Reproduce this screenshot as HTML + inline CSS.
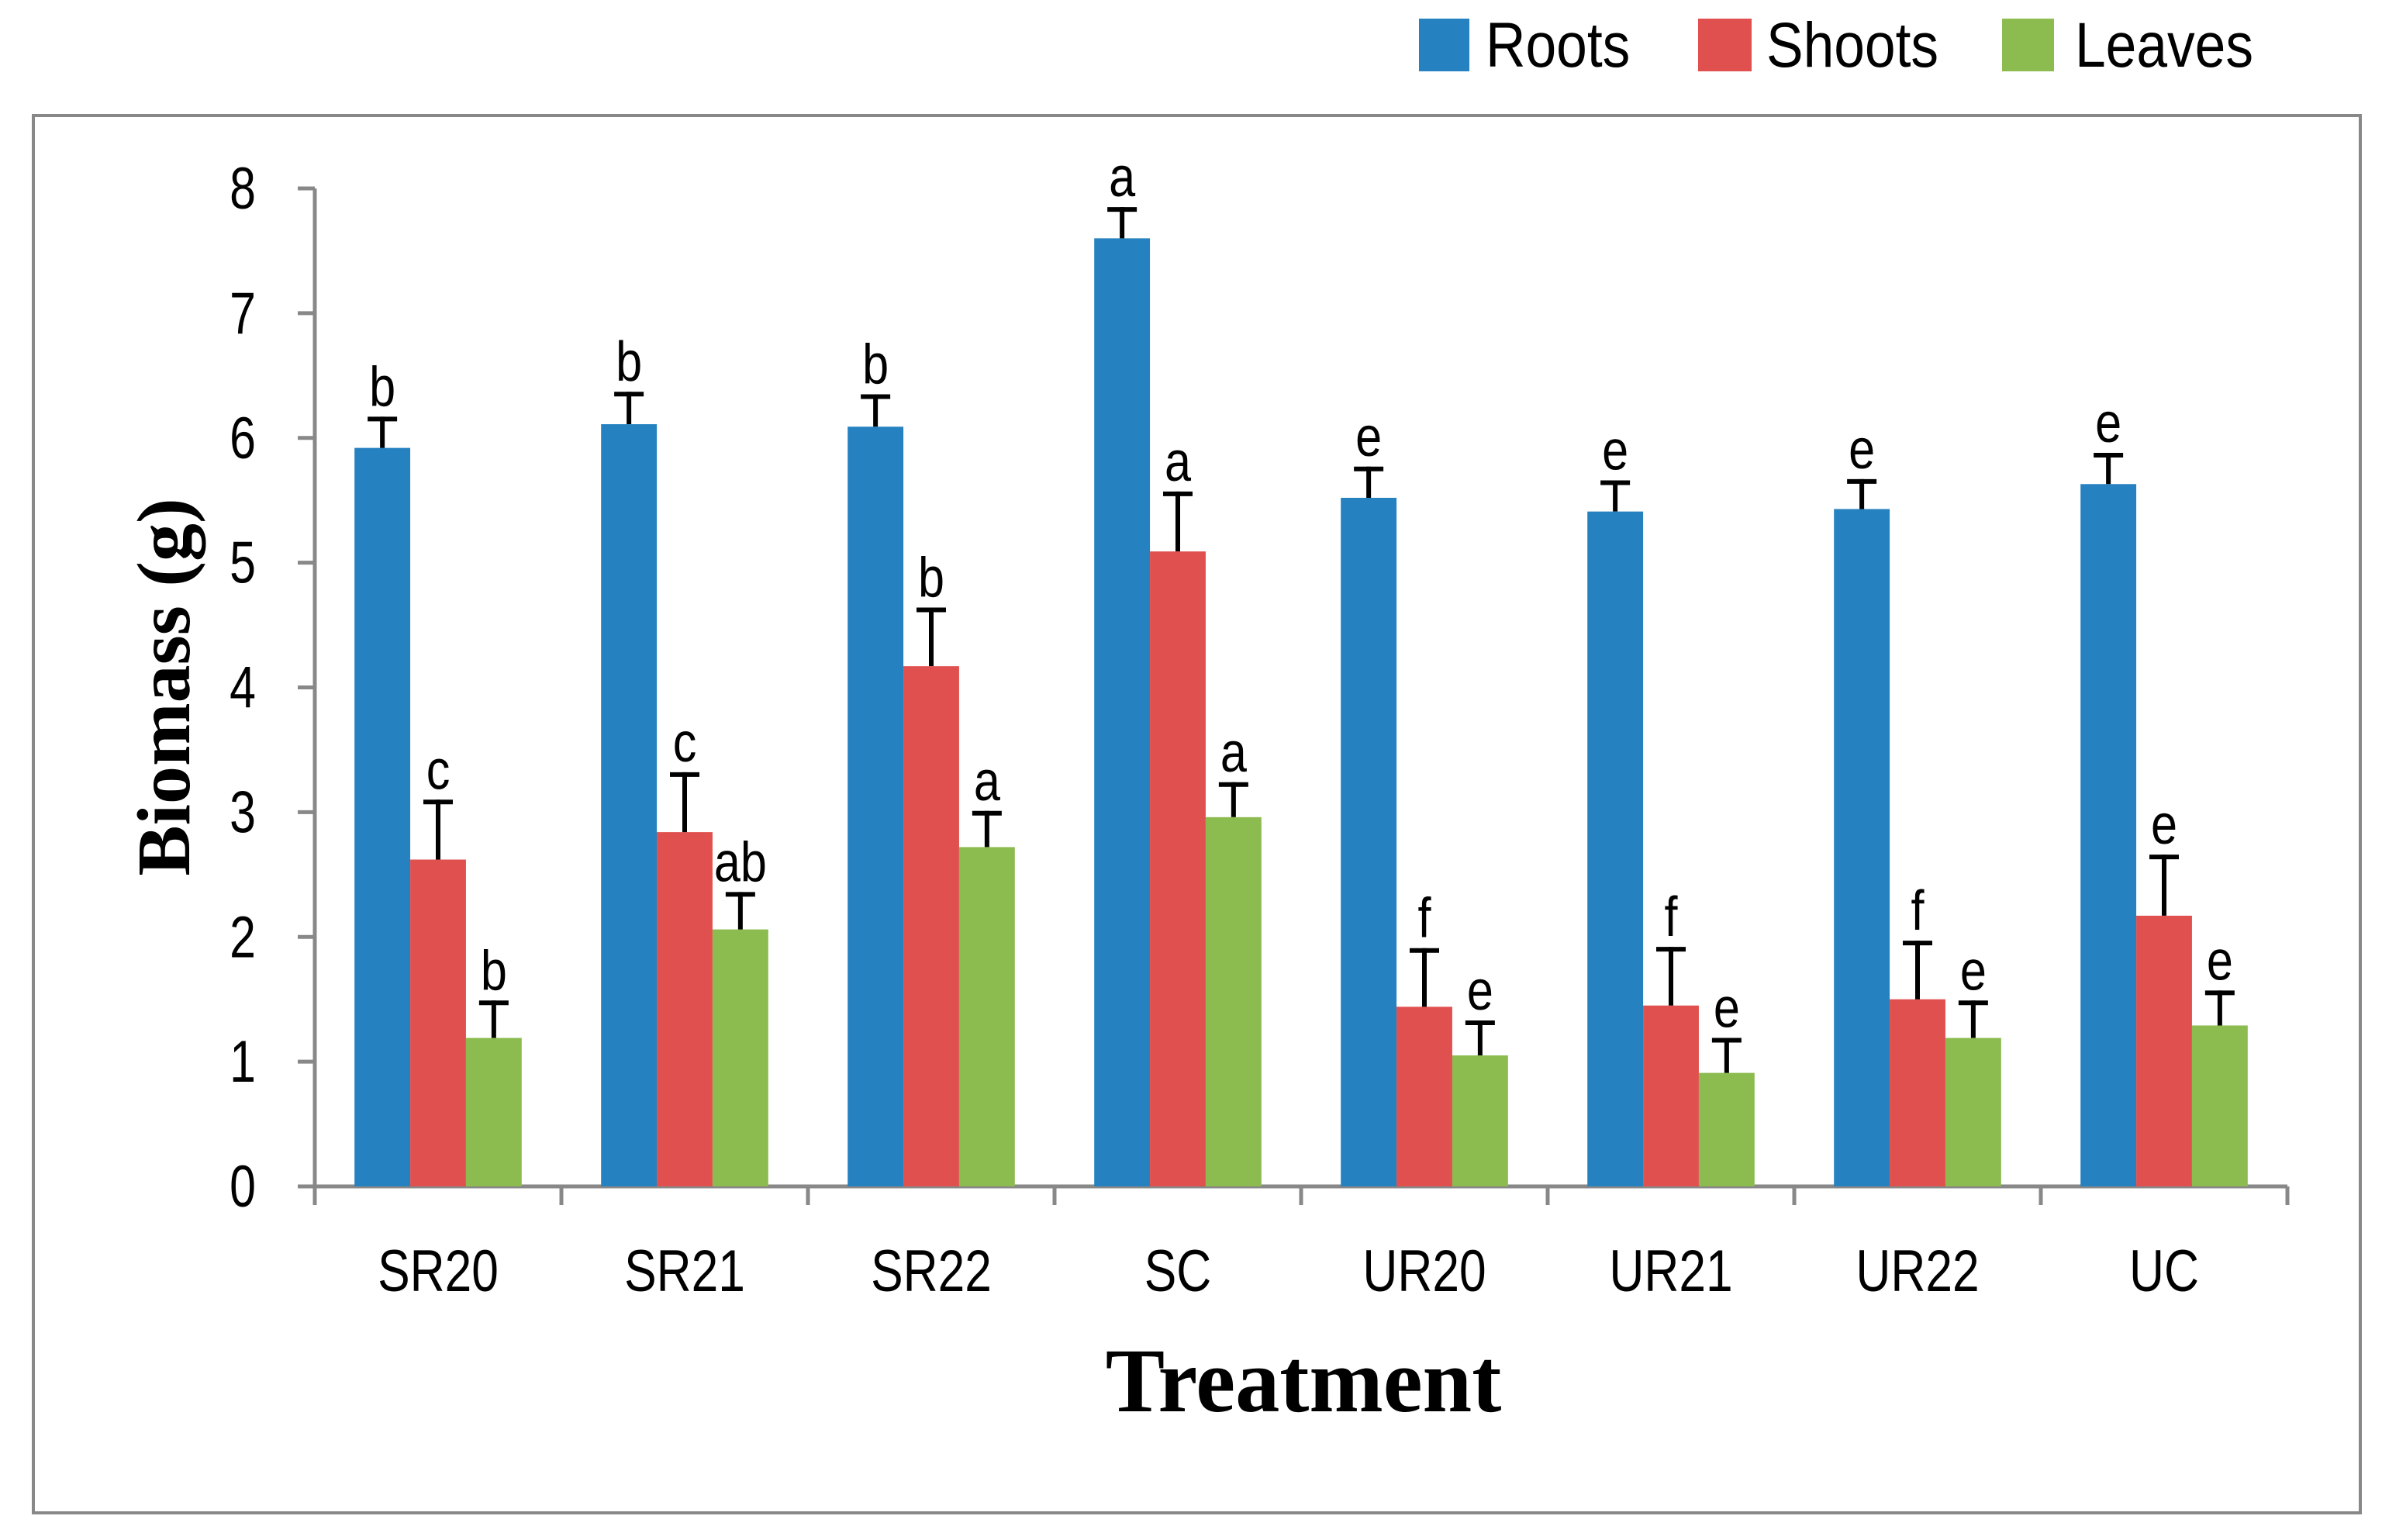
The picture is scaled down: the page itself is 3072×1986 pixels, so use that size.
<!DOCTYPE html>
<html><head><meta charset="utf-8"><style>
html,body{margin:0;padding:0;background:#fff;}
svg{display:block;}
text{font-family:"Liberation Sans",sans-serif;}
</style></head><body>
<svg id="chart" width="3072" height="1986" viewBox="0 0 3072 1986" xmlns="http://www.w3.org/2000/svg">
<rect x="43" y="149" width="3001" height="1802" fill="#fff" stroke="#888" stroke-width="4"/>
<g>
<rect x="1830" y="24" width="65" height="68" fill="#2581C0"/>
<text x="0" y="0" font-size="82" transform="translate(1916,86) scale(0.87,1)">Roots</text>
<rect x="2190" y="24" width="69" height="68" fill="#E0504E"/>
<text x="0" y="0" font-size="82" transform="translate(2278,86) scale(0.87,1)">Shoots</text>
<rect x="2582" y="24" width="67" height="68" fill="#8CBB4F"/>
<text x="0" y="0" font-size="82" transform="translate(2676,86) scale(0.87,1)">Leaves</text>
</g>
<g id="plot"></g>
<text x="0" y="0" font-size="98" font-weight="bold" text-anchor="middle" style="font-family:'Liberation Serif',serif" transform="translate(244,886) rotate(-90)">Biomass (g)</text>
<text x="0" y="0" font-size="118" font-weight="bold" text-anchor="middle" style="font-family:'Liberation Serif',serif" transform="translate(1681,1820) scale(0.97,1)">Treatment</text>
</svg>
<script>
const categories = ["SR20","SR21","SR22","SC","UR20","UR21","UR22","UC"];
const roots = [5.92,6.11,6.09,7.6,5.52,5.41,5.43,5.63];
const shoots = [2.62,2.84,4.17,5.09,1.44,1.45,1.5,2.17];
const leaves = [1.19,2.06,2.72,2.96,1.05,0.91,1.19,1.29];
const rootsErr = [0.25,0.26,0.26,0.25,0.25,0.25,0.24,0.25];
const shootsErr = [0.48,0.48,0.47,0.48,0.47,0.47,0.47,0.49];
const leavesErr = [0.3,0.3,0.29,0.28,0.28,0.28,0.3,0.28];
const rootsLetters = ["b","b","b","a","e","e","e","e"];
const shootsLetters = ["c","c","b","a","f","f","f","e"];
const leavesLetters = ["b","ab","a","a","e","e","e","e"];
const yTicks = [0,1,2,3,4,5,6,7,8];

const NS="http://www.w3.org/2000/svg";
const g=document.getElementById('plot');
const x0=406, x1=2950, yTop=243, yBot=1530, yMax=8;
const catW=(x1-x0)/categories.length;
const barW=catW*0.226;
function y(v){return yBot-(v/yMax)*(yBot-yTop);}
function xc(i){return x0+catW*(i+0.5);}
function mk(tag,attrs){const e=document.createElementNS(NS,tag);for(const k in attrs)e.setAttribute(k,attrs[k]);g.appendChild(e);return e;}
function txt(tx,ty,size,anchor,sx){return mk('text',{x:0,y:0,'font-size':size,'text-anchor':anchor,transform:'translate('+tx+','+ty+') scale('+sx+',1)'});}

let ax=mk('line',{x1:x0,y1:yTop,x2:x0,y2:yBot,stroke:'#888','stroke-width':5});


yTicks.forEach(t=>{
  const tk=mk('line',{x1:x0-22,y1:y(t),x2:x0,y2:y(t),stroke:'#888','stroke-width':5});
  
  
  const tl=txt(330,y(t)+26,76,'end',0.8);
  tl.textContent=t;
  
  
});
let xa=mk('line',{x1:x0,y1:yBot,x2:x1,y2:yBot,stroke:'#888','stroke-width':5});


for(let i=0;i<=categories.length;i++){
  const tk=mk('line',{x1:x0+catW*i,y1:yBot,x2:x0+catW*i,y2:yBot+24,stroke:'#888','stroke-width':5});
  
  
}
categories.forEach((c,i)=>{
  const tl=txt(xc(i),1665,76,'middle',0.82);
  tl.textContent=c;
  
  
});
const series=[
  {name:'roots',vals:roots,err:rootsErr,let:rootsLetters,color:'#2581C0'},
  {name:'shoots',vals:shoots,err:shootsErr,let:shootsLetters,color:'#E0504E'},
  {name:'leaves',vals:leaves,err:leavesErr,let:leavesLetters,color:'#8CBB4F'}
];
series.forEach((s,si)=>{
  s.vals.forEach((v,i)=>{
    const bx=xc(i)+(si-1.5)*barW;
    const cx=bx+barW/2;
    const b=mk('rect',{x:bx,y:y(v),width:barW,height:yBot-y(v),fill:s.color});
    
    
    const top=y(v+s.err[i]);
    const el=mk('line',{x1:cx,y1:y(v),x2:cx,y2:top,stroke:'#000','stroke-width':6});
    
    
    const cp=mk('line',{x1:cx-19,y1:top+3,x2:cx+19,y2:top+3,stroke:'#000','stroke-width':6});
    
    
    const lt=txt(cx,top-14,72,'middle',0.85);
    lt.textContent=s.let[i];
    
    
  });
});
</script>
</body></html>
